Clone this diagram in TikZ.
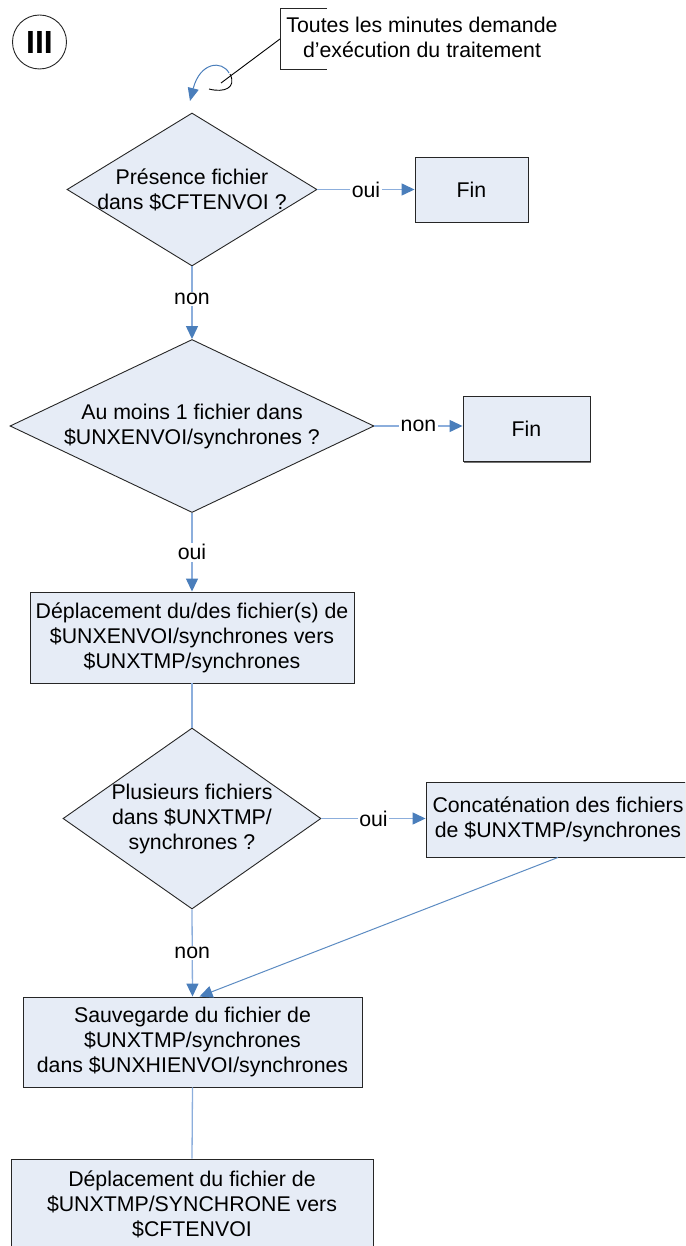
\documentclass[tikz,border=0pt]{standalone}
\usepackage{fontspec}
\setmainfont{Liberation Sans}
\usetikzlibrary{shapes.geometric,arrows.meta,shadows}
\definecolor{boxfill}{HTML}{E6ECF6}
\definecolor{linkblue}{HTML}{8CAEDC}
\definecolor{tipblue}{HTML}{4A7EBB}
\definecolor{edgegray}{HTML}{262626}
\begin{document}
\begin{tikzpicture}[x=1pt,y=-1pt,
  every node/.style={font=\fontsize{21.3}{25}\selectfont, text=black},
  boxnode/.style={draw=edgegray, line width=0.9pt, fill=boxfill, rectangle, inner sep=0pt, align=center,
    drop shadow={shadow xshift=1.2pt, shadow yshift=-1.4pt, fill=black!55, opacity=1}},
  dianode/.style={draw=edgegray, line width=0.9pt, fill=boxfill, diamond, inner sep=0pt},
  txtnode/.style={align=center, inner sep=0pt},
  lbl/.style={fill=white, inner sep=1.5pt},
  conn/.style={draw=linkblue, line width=1.3pt},
  arr/.style={conn, -{Triangle[length=13pt,width=12pt,color=tipblue]}},
]
\useasboundingbox (0,0) rectangle (685,1246);
\clip (0,0) rectangle (685,1246);

% title circle
\node[draw=edgegray, circle, minimum size=54pt, inner sep=0pt, line width=0.9pt,
      font=\fontsize{32}{32}\selectfont\bfseries] (num) at (39.5,42) {III};

% callout
\draw[edgegray, line width=0.9pt] (327,8) -- (280,8) -- (280,69) -- (327,69);
\node[txtnode] (note) at (422,37.5) {Toutes les minutes demande\\d’exécution du traitement};
\coordinate (lead) at (280,39);
\coordinate (leadend) at (221,83);
\draw[black, line width=0.9pt] (lead) -- (leadend);
\draw[black, line width=0.9pt] (209,89) .. controls (224,93) and (237,88) .. (230,74);
\draw[tipblue, line width=1pt, -{Triangle[length=13pt,width=11pt]}]
  (229,73) .. controls (222,60) and (200,62) .. (190,101);

% decision 1
\node[dianode, minimum width=250pt, minimum height=153pt] (d1) at (192,189.5) {};
\node[txtnode] (d1t) at (192,189.5) {Présence fichier\\dans \$CFTENVOI ?};
\node[boxnode, minimum width=113pt, minimum height=65pt] (f1) at (471.5,189.5) {Fin};

% decision 2
\node[dianode, minimum width=364pt, minimum height=173pt] (d2) at (192,426) {};
\node[txtnode] (d2t) at (192,426) {Au moins 1 fichier dans\\\$UNXENVOI/synchrones ?};
\node[boxnode, minimum width=127pt, minimum height=65pt] (f2) at (526.5,429) {Fin};

% process 3
\node[boxnode, minimum width=324pt, minimum height=91pt] (b3) at (192,637.5)
  {Déplacement du/des fichier(s) de\\\$UNXENVOI/synchrones vers\\\$UNXTMP/synchrones};

% decision 3
\node[dianode, minimum width=258pt, minimum height=181pt] (d3) at (192,818.5) {};
\node[txtnode] (d3t) at (192,818.5) {Plusieurs fichiers\\dans \$UNXTMP/\\synchrones ?};
\node[boxnode, minimum width=264pt, minimum height=75pt] (b4) at (558,819.5)
  {Concaténation des fichiers\\de \$UNXTMP/synchrones};

% process 5, 6
\node[boxnode, minimum width=339pt, minimum height=90pt] (b5) at (192.5,1042)
  {Sauvegarde du fichier de\\\$UNXTMP/synchrones\\dans \$UNXHIENVOI/synchrones};
\node[boxnode, minimum width=362pt, minimum height=91pt] (b6) at (192,1204.5)
  {Déplacement du fichier de\\\$UNXTMP/SYNCHRONE vers\\\$CFTENVOI};

% connectors
\draw[arr] (d1.east) -- node[lbl]{oui} (d1.east -| f1.west);
\draw[arr] (d1.south) -- node[lbl, pos=0.45]{non} (d2.north);
\draw[arr] (d2.east) -- node[lbl]{non} (d2.east -| f2.west);
\draw[arr] (d2.south) -- node[lbl]{oui} (b3.north);
\draw[conn] (b3.south) -- (d3.north);
\draw[arr] (d3.east) -- node[lbl]{oui} (d3.east -| b4.west);
\draw[arr] (d3.south) -- node[lbl]{non} (b5.north);
\draw[draw=tipblue!90, line width=1pt, -{Triangle[length=13pt,width=12pt,color=tipblue]}]
  (b4.south) -- ([xshift=7pt]b5.north);
\draw[conn] (b5.south) -- (b6.north);
\end{tikzpicture}
\end{document}
